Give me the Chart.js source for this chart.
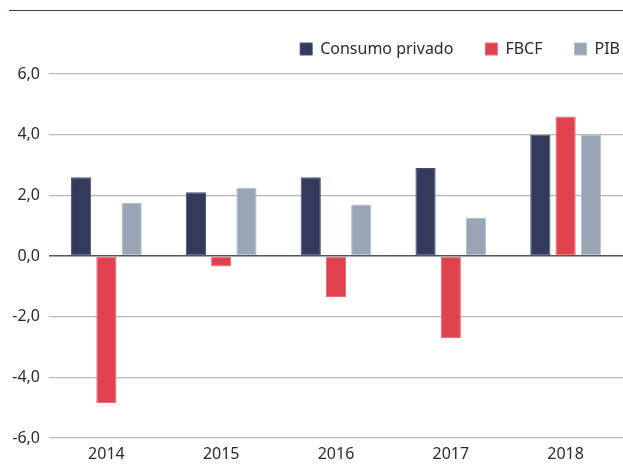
<!DOCTYPE html>
<html>
<head>
<meta charset="utf-8">
<script src="https://cdn.jsdelivr.net/npm/chart.js@4"></script>
<style>
  body { margin: 0; background: #fff; }
  #wrap { position: relative; width: 623px; height: 464px; }
  #topline { position: absolute; left: 9px; right: 0; top: 10px; border-top: 1.5px solid #343c64; }
  canvas { position: absolute; left: 0; top: 0; }
</style>
</head>
<body>
<div id="wrap">
  <canvas id="chart" width="623" height="464"></canvas>
  <div id="topline"></div>
</div>
<script>
const years = ['2014', '2015', '2016', '2017', '2018']
const consumoPrivado = [2.6, 2.1, 2.6, 2.9, 4.0]
const fbcf = [-4.85, -0.35, -1.35, -2.7, 4.6]
const pib = [1.75, 2.25, 1.7, 1.25, 4.0]
const yTicks = [-6, -4, -2, 0, 2, 4, 6]

const fontFamily = "'Noto Sans', 'Open Sans', sans-serif"

function barSet(label, data, color, edge) {
  return {
    label: label,
    data: data,
    backgroundColor: color,
    borderColor: edge,
    borderWidth: 1,
    borderSkipped: false,
    categoryPercentage: 0.66,
    barPercentage: 0.8
  }
}

// nudge the legend: a bit more room below it, and flush to the right edge
const legendTweak = {
  id: 'legendTweak',
  beforeLayout(chart) {
    const lg = chart.legend
    if (lg && !lg._tweaked) {
      const fit = lg.fit
      lg.fit = function () {
        fit.call(this)
        this.height += 7
      }
      lg._tweaked = true
    }
  },
  afterLayout(chart) {
    if (chart.legend) chart.legend.right += 29
  }
}

const ctx = document.getElementById('chart').getContext('2d')

new Chart(ctx, {
  type: 'bar',
  data: {
    labels: years,
    datasets: [
      barSet('Consumo privado', consumoPrivado, '#333a5e', '#4a5176'),
      barSet('FBCF', fbcf, '#e0424f', '#ea6a74'),
      barSet('PIB', pib, '#99a4b4', '#b4bcc8')
    ]
  },
  plugins: [legendTweak],
  options: {
    responsive: false,
    animation: false,
    layout: {
      padding: { top: 9, right: 0, bottom: 0, left: 0 }
    },
    plugins: {
      legend: {
        position: 'top',
        align: 'end',
        labels: {
          boxWidth: 12,
          boxHeight: 12,
          padding: 32,
          color: '#2a2a2a',
          font: { family: fontFamily, size: 16 }
        }
      },
      tooltip: { enabled: false }
    },
    scales: {
      y: {
        min: -6,
        max: 6,
        afterBuildTicks: axis => {
          axis.ticks = yTicks.map(v => ({ value: v }))
        },
        afterFit: axis => {
          axis.width = 49
        },
        border: { display: false },
        grid: {
          drawTicks: false,
          color: c => c.tick && c.tick.value === 0 ? '#555' : '#b8b8b8',
          lineWidth: c => c.tick && c.tick.value === 0 ? 1.5 : 1.2
        },
        ticks: {
          padding: 9,
          color: '#2a2a2a',
          font: { family: fontFamily, size: 16 },
          callback: v => v.toFixed(1).replace('.', ',')
        }
      },
      x: {
        afterFit: axis => {
          axis.height = 26
        },
        border: { display: false },
        grid: { display: false, drawTicks: false },
        ticks: {
          padding: 7,
          color: '#2a2a2a',
          font: { family: fontFamily, size: 16 }
        }
      }
    }
  }
})
</script>
</body>
</html>
